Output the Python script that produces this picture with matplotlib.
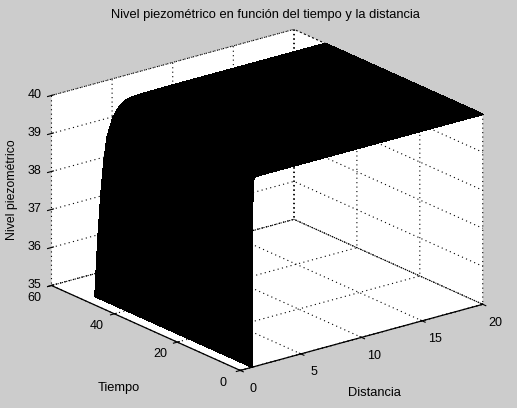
import matplotlib
matplotlib.use('Agg')
import matplotlib.pyplot as plt
import numpy as np

plt.rcParams['font.family'] = ['Liberation Sans', 'DejaVu Sans']
plt.rcParams['font.size'] = 9.3
plt.rcParams['grid.color'] = 'k'
plt.rcParams['grid.linestyle'] = (0, (1, 3))
plt.rcParams['grid.linewidth'] = 0.8

distancia = [1, 1.02, 1.25, 1.5, 1.75, 2, 2.5, 3, 3.5, 4, 5, 7, 10, 15, 20]
tiempo = [0, 10, 20, 30, 40, 50]
nivel_t0 = [35, 40, 40, 40, 40, 40, 40, 40, 40, 40, 40, 40, 40, 40, 40]
nivel_t10 = [35, 35.3, 38.1, 39.35, 39.78, 39.92, 39.98, 40, 40, 40, 40, 40, 40, 40, 40]
nivel_t20 = [35, 35.2, 37.4, 38.75, 39.45, 39.72, 39.92, 39.98, 39.99, 40, 40, 40, 40, 40, 40]
nivel_t30 = [35, 35.15, 36.95, 38.3, 39.1, 39.5, 39.82, 39.94, 39.98, 39.99, 40, 40, 40, 40, 40]
nivel_t40 = [35, 35.1, 36.7, 37.95, 38.85, 39.3, 39.72, 39.9, 39.96, 39.98, 39.99, 40, 40, 40, 40]
nivel_t50 = [35, 35.1, 36.5, 37.65, 38.5, 39.1, 39.58, 39.82, 39.94, 39.97, 39.99, 40, 40, 40, 40]

d, t = np.meshgrid(distancia, tiempo)
z = np.array([nivel_t0, nivel_t10, nivel_t20, nivel_t30, nivel_t40, nivel_t50])

fig = plt.figure(figsize=(5.17, 4.08), dpi=100, facecolor='#cccccc')
ax = fig.add_axes([-41/517, -100/408, 600/517, 600/408], projection='3d', proj_type='ortho', facecolor='none')
ax.view_init(elev=20.5, azim=-127.9)
ax.set_box_aspect((309, 309, 204), zoom=0.776)

ax.plot_surface(d, t, z, color='k', edgecolor='k', linewidth=0.6, antialiased=False, shade=False, rstride=1, cstride=1)

ax.set_xlim(0, 20, view_margin=0)
ax.set_ylim(0, 60, view_margin=0)
ax.set_zlim(35, 40, view_margin=0)
ax.set_xticks([0, 5, 10, 15, 20])
ax.set_yticks([0, 20, 40, 60])
ax.set_zticks([35, 36, 37, 38, 39, 40])
ax.tick_params(axis='x', labelsize=9, pad=7)
ax.tick_params(axis='y', labelsize=9, pad=8)
ax.tick_params(axis='z', labelsize=9, pad=1)

for axis in (ax.xaxis, ax.yaxis, ax.zaxis):
    for lab in axis.get_ticklabels():
        lab.set_va('center')
    axis.set_pane_color((1, 1, 1, 1))
    axis.pane.set_edgecolor('k')
    axis.pane.set_linestyle((0, (1, 3)))
    axis.pane.set_linewidth(0.8)
    axis.line.set_linewidth(0.9)
for lab in ax.yaxis.get_ticklabels():
    lab.set_va('bottom')
ax.zaxis.line.set_color('none')
ax.zaxis.set_ticks_position('upper')

fig.text(265/517, 1 - 15/408, 'Nivel piezométrico en función del tiempo y la distancia', ha='center', va='center')
fig.text(374/517, 1 - 393/408, 'Distancia', ha='center', va='center')
fig.text(119/517, 1 - 388/408, 'Tiempo', ha='center', va='center')
fig.text(12/517, 1 - 190/408, 'Nivel piezométrico', ha='center', va='center', rotation=90, fontsize=8.8)

fig.savefig('out.png', dpi=100, facecolor=fig.get_facecolor())
